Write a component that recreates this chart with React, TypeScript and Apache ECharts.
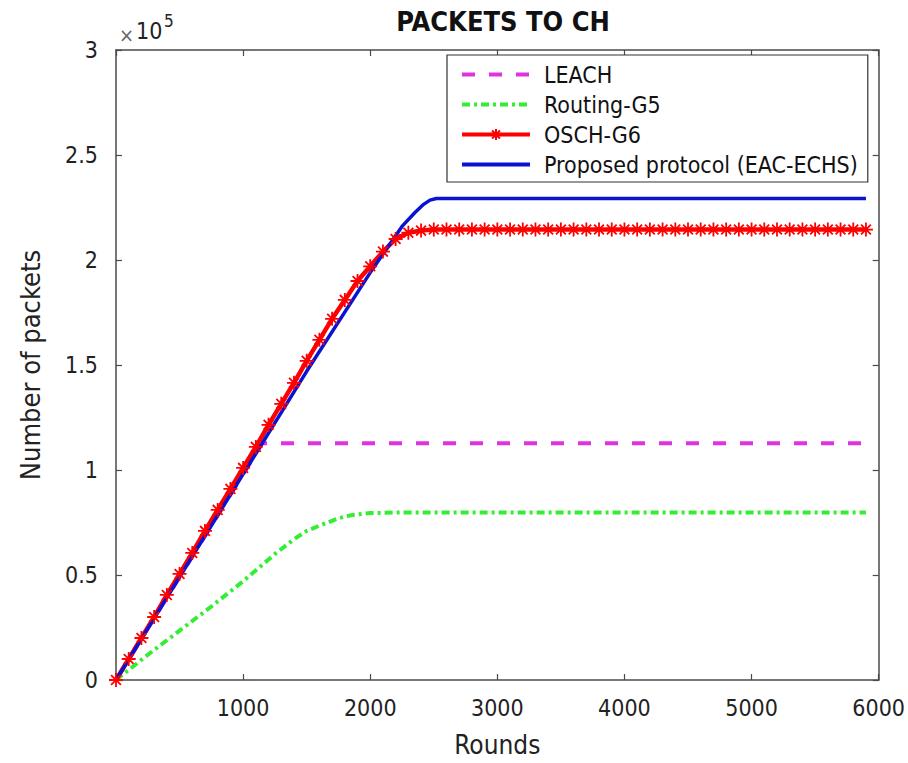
import React, { useEffect, useRef } from "react";
import * as echarts from "echarts";

// Values in units of 10^5 packets
const leachX = [0, 1150, 5900];
const leachY = [0, 1.127, 1.127];

const routingX = [0, 250, 500, 750, 1000, 1250, 1400, 1500, 1600, 1750, 1850, 2000, 2250, 5900];
const routingY = [0, 0.12, 0.235, 0.35, 0.47, 0.6, 0.67, 0.71, 0.735, 0.77, 0.785, 0.795, 0.798, 0.798];

const oschX = [
  0, 100, 200, 300, 400, 500, 600, 700, 800, 900, 1000, 1100, 1200, 1300, 1400, 1500, 1600, 1700, 1800, 1900,
  2000, 2100, 2200, 2300, 2400, 2500, 2600, 2700, 2800, 2900, 3000, 3100, 3200, 3300, 3400, 3500, 3600, 3700,
  3800, 3900, 4000, 4100, 4200, 4300, 4400, 4500, 4600, 4700, 4800, 4900, 5000, 5100, 5200, 5300, 5400, 5500,
  5600, 5700, 5800, 5900,
];
const oschY = [
  0, 0.1, 0.2, 0.3, 0.405, 0.505, 0.605, 0.71, 0.81, 0.91, 1.01, 1.11, 1.215, 1.315, 1.415, 1.52, 1.62, 1.72,
  1.81, 1.9, 1.97, 2.04, 2.1, 2.13, 2.14, 2.145, 2.145, 2.145, 2.145, 2.145, 2.145, 2.145, 2.145, 2.145, 2.145,
  2.145, 2.145, 2.145, 2.145, 2.145, 2.145, 2.145, 2.145, 2.145, 2.145, 2.145, 2.145, 2.145, 2.145, 2.145, 2.145,
  2.145, 2.145, 2.145, 2.145, 2.145, 2.145, 2.145, 2.145, 2.145,
];

const proposedX = [0, 1000, 1500, 2000, 2250, 2350, 2420, 2470, 2520, 5900];
const proposedY = [0, 0.98, 1.47, 1.94, 2.16, 2.225, 2.265, 2.285, 2.293, 2.293];

const xTicks = { min: 0, max: 6000, interval: 1000 };
const yTicks = { min: 0, max: 3, interval: 0.5 };

const seriesNames = ["LEACH", "Routing-G5", "OSCH-G6", "Proposed protocol (EAC-ECHS)"];

const zip = (xs: number[], ys: number[]) => xs.map((x, i) => [x, ys[i]]);

const FONT = "'DejaVu Sans Condensed', 'DejaVu Sans', sans-serif";
const AXIS_COLOR = "#4a4a4a";

export default function App() {
  const ref = useRef<HTMLDivElement>(null);
  useEffect(() => {
    if (!ref.current) return;
    const chart = echarts.init(ref.current, undefined, { renderer: "svg" });
    const star = "path://M0,-10L0,10M-10,0L10,0M-7,-7L7,7M-7,7L7,-7";
    const axisCommon = {
      type: "value" as const,
      axisLine: { show: true, onZero: false, lineStyle: { color: AXIS_COLOR, width: 1.5 } },
      axisTick: { show: true, inside: true, length: 6, lineStyle: { color: AXIS_COLOR, width: 1.2 } },
      splitLine: { show: false },
    };
    chart.setOption({
      animation: false,
      backgroundColor: "#ffffff",
      title: {
        text: "PACKETS TO CH",
        left: 498,
        top: 3,
        textAlign: "center",
        textStyle: { fontFamily: FONT, fontSize: 27, fontWeight: "bold", color: "#111" },
      },
      grid: { left: 116, right: 28, top: 50, bottom: 83, containLabel: false },
      legend: {
        data: seriesNames.map((n, i) => (i === 2 ? { name: n } : { name: n, itemStyle: { opacity: 0 } })),
        orient: "vertical",
        left: 447,
        top: 55,
        padding: [8, 10, 6, 13],
        itemGap: 7,
        itemWidth: 68,
        itemHeight: 14,
        borderColor: "#333",
        borderWidth: 1.2,
        borderRadius: 0,
        backgroundColor: "#fff",
        lineStyle: { width: 4 },
        textStyle: { fontFamily: FONT, fontSize: 23, color: "#111", lineHeight: 23, padding: [0, 0, 0, 9] },
      },
      xAxis: [
        {
          ...axisCommon,
          ...xTicks,
          position: "bottom",
          name: "Rounds",
          nameLocation: "middle",
          nameGap: 52,
          nameTextStyle: { fontFamily: FONT, fontSize: 26, color: "#222" },
          axisLabel: {
            fontFamily: FONT,
            fontSize: 23,
            color: "#222",
            margin: 16,
            showMinLabel: false,
            formatter: (v: number) => String(v),
          },
        },
        {
          ...axisCommon,
          ...xTicks,
          position: "top",
          axisLabel: { show: false },
        },
      ],
      yAxis: [
        {
          ...axisCommon,
          ...yTicks,
          position: "left",
          name: "Number of packets",
          nameLocation: "middle",
          nameGap: 72,
          nameTextStyle: { fontFamily: FONT, fontSize: 27, color: "#222" },
          axisLabel: {
            fontFamily: FONT,
            fontSize: 23,
            color: "#222",
            margin: 18,
            formatter: (v: number) => String(v),
          },
        },
        {
          ...axisCommon,
          ...yTicks,
          position: "right",
          axisLabel: { show: false },
        },
      ],
      graphic: [
        {
          type: "text",
          left: 119,
          top: 25,
          style: { text: "×", fontFamily: FONT, fontSize: 20, fill: "#666" },
        },
        {
          type: "text",
          left: 136,
          top: 19,
          style: { text: "10", fontFamily: FONT, fontSize: 23, fill: "#222" },
        },
        {
          type: "text",
          left: 164,
          top: 12,
          style: { text: "5", fontFamily: FONT, fontSize: 17, fill: "#222" },
        },
      ],
      series: [
        {
          name: seriesNames[0],
          type: "line",
          data: zip(leachX, leachY),
          symbol: "none",
          lineStyle: { color: "#e033e0", width: 4, type: [13, 14] },
          itemStyle: { color: "#e033e0" },
        },
        {
          name: seriesNames[1],
          type: "line",
          data: zip(routingX, routingY),
          symbol: "none",
          lineStyle: { color: "#33ee33", width: 4, type: [8, 4, 3, 4] },
          itemStyle: { color: "#33ee33" },
        },
        {
          name: seriesNames[2],
          type: "line",
          data: zip(oschX, oschY),
          symbol: star,
          symbolSize: 14,
          showAllSymbol: true,
          lineStyle: { color: "#ff0000", width: 4.5 },
          itemStyle: { color: "#ff0000", borderColor: "#ff0000", borderWidth: 1.8 },
        },
        {
          name: seriesNames[3],
          type: "line",
          data: zip(proposedX, proposedY),
          symbol: "none",
          lineStyle: { color: "#0a14d0", width: 3.5 },
          itemStyle: { color: "#0a14d0" },
        },
      ],
    });
    return () => chart.dispose();
  }, []);
  return <div ref={ref} style={{ position: "fixed", left: 0, top: 0, width: 908, height: 763 }} />;
}
